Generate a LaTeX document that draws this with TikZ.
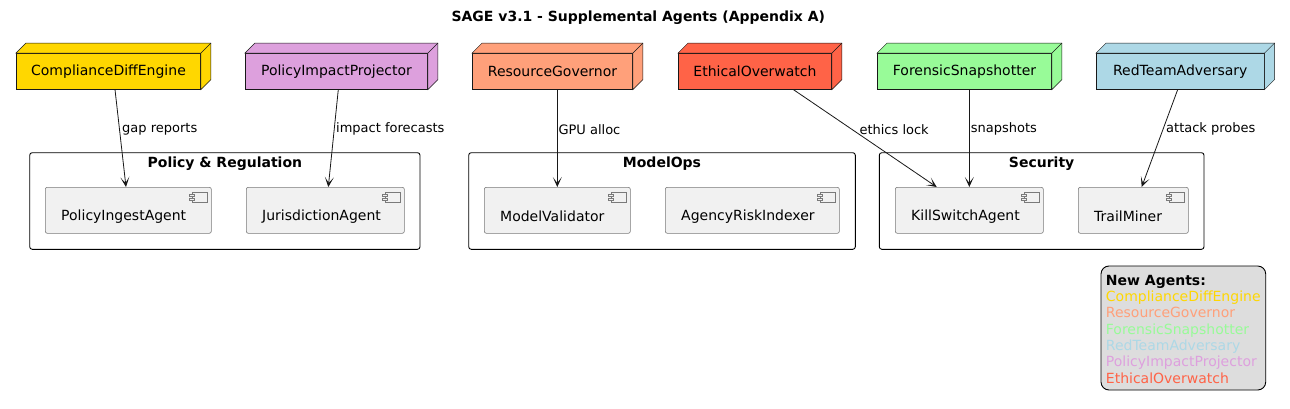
\documentclass[tikz,border=0pt]{standalone}
\usepackage{fontspec}
\setmainfont{DejaVu Sans}
\usetikzlibrary{calc,arrows.meta}
\definecolor{edgec}{HTML}{181818}
\definecolor{cgold}{HTML}{FFD700}
\definecolor{cplum}{HTML}{DDA0DD}
\definecolor{csalmon}{HTML}{FFA07A}
\definecolor{ctomato}{HTML}{FF6347}
\definecolor{cgreen}{HTML}{98FB98}
\definecolor{cblue}{HTML}{ADD8E6}
\definecolor{compfill}{HTML}{F1F1F1}
\definecolor{compline}{HTML}{7A7A7A}
\definecolor{legfill}{HTML}{DDDDDD}
\tikzset{
  agent/.style={draw=edgec, line width=0.5pt, fill=#1, minimum height=36pt, inner sep=0pt,
    font=\fontsize{14}{16}\selectfont},
  compbox/.style={draw=compline, line width=0.6pt, fill=compfill, rounded corners=2pt,
    minimum height=46pt, inner sep=0pt},
  comptext/.style={anchor=west, inner sep=0pt, font=\fontsize{14}{16}\selectfont},
  cluster/.style={draw=black, line width=0.9pt, rounded corners=2.5pt, minimum height=96.6pt, inner sep=0pt},
  clustertitle/.style={inner sep=0pt, font=\fontsize{14}{16}\selectfont\bfseries},
  elabel/.style={anchor=west, inner sep=0pt, font=\fontsize{13}{15}\selectfont},
  arr/.style={draw=edgec, line width=0.8pt, -{Stealth[length=10pt,width=9pt,inset=6pt]}},
  legtext/.style={anchor=base west, inner sep=0pt, font=\fontsize{14}{16}\selectfont},
}
\newcommand{\cubeside}[2]{%
  \filldraw[fill=#2, draw=edgec, line width=0.5pt] (#1.north west) -- ++(10,-10)
    -- ($(#1.north east)+(10,-10)$) -- ($(#1.south east)+(10,-10)$) -- (#1.south east)
    -- (#1.north east) -- cycle;
  \draw[edgec, line width=0.5pt] (#1.north east) -- ++(10,-10);}
\newcommand{\compicon}[1]{%
  \draw[compline, line width=0.6pt, fill=compfill] ($(#1.north east)+(-19.7,5)$) rectangle ($(#1.north east)+(-4.7,15)$);
  \draw[compline, line width=0.6pt, fill=compfill] ($(#1.north east)+(-22.2,6.8)$) rectangle ($(#1.north east)+(-17.2,9.2)$);
  \draw[compline, line width=0.6pt, fill=compfill] ($(#1.north east)+(-22.2,10.8)$) rectangle ($(#1.north east)+(-17.2,13.2)$);}
\begin{document}
\begin{tikzpicture}[x=1pt,y=-1pt]
\useasboundingbox[fill=white] (0,0) rectangle (1290,409);

\node[inner sep=0pt, font=\fontsize{14}{16}\selectfont\bfseries] (title) at (638.3,17.8) {SAGE v3.1 - Supplemental Agents (Appendix A)};

% clusters
\node[cluster, minimum width=390.3pt] (cpol) at (224.85,201) {};
\node[cluster, minimum width=386.6pt] (cmod) at (662,201) {};
\node[cluster, minimum width=324.7pt] (csec) at (1041.65,201) {};
\node[clustertitle] (tpol) at ($(cpol.north)+(0,11.8)$) {Policy \& Regulation};
\node[clustertitle] (tmod) at ($(cmod.north)+(0,11.8)$) {ModelOps};
\node[clustertitle] (tsec) at ($(csec.north)+(0,11.8)$) {Security};

% components
\node[compbox, minimum width=166pt] (pia) at (128.3,210.3) {};
\node[compbox, minimum width=158pt] (jur) at (325.3,210.3) {};
\node[compbox, minimum width=146pt] (mv) at (557.3,210.3) {};
\node[compbox, minimum width=174pt] (ari) at (752.3,210.3) {};
\node[compbox, minimum width=148pt] (ks) at (969.3,210.3) {};
\node[compbox, minimum width=110pt] (tm) at (1133.3,210.3) {};
\foreach \c in {pia,jur,mv,ari,ks,tm} {\compicon{\c}}
\node[comptext] (piat) at ($(pia.west)+(16,6)$) {PolicyIngestAgent};
\node[comptext] (jurt) at ($(jur.west)+(16,6)$) {JurisdictionAgent};
\node[comptext] (mvt) at ($(mv.west)+(16,6)$) {ModelValidator};
\node[comptext] (arit) at ($(ari.west)+(16,6)$) {AgencyRiskIndexer};
\node[comptext] (kst) at ($(ks.west)+(16,6)$) {KillSwitchAgent};
\node[comptext] (tmt) at ($(tm.west)+(16,6)$) {TrailMiner};

% agents (3D boxes)
\node[agent=cgold, minimum width=184.4pt] (cde) at (108.5,71.3) {ComplianceDiffEngine};
\node[agent=cplum, minimum width=182.4pt] (pip) at (336.5,71.3) {PolicyImpactProjector};
\node[agent=csalmon, minimum width=160.4pt] (rg) at (552.5,71.3) {ResourceGovernor};
\node[agent=ctomato, minimum width=153.4pt] (eo) at (755,71.3) {EthicalOverwatch};
\node[agent=cgreen, minimum width=174.4pt] (fs) at (964.5,71.3) {ForensicSnapshotter};
\node[agent=cblue, minimum width=168pt] (rt) at (1180.3,71.3) {RedTeamAdversary};
\cubeside{cde}{cgold}
\cubeside{pip}{cplum}
\cubeside{rg}{csalmon}
\cubeside{eo}{ctomato}
\cubeside{fs}{cgreen}
\cubeside{rt}{cblue}

% connectors
\draw[arr] ($(cde.south)+(6.5,0)$) -- ($(pia.north)+(-2.3,0)$);
\draw[arr] ($(pip.south)+(1.8,0)$) -- ($(jur.north)+(3,0)$);
\draw[arr] ($(rg.south)+(4.8,0)$) -- (mv.north);
\draw[arr] ($(eo.south)+(38.3,0)$) -- ($(ks.north)+(-32.6,0)$);
\draw[arr] ($(fs.south)+(4.8,0)$) -- (ks.north);
\draw[arr] ($(rt.south)+(-2.6,0)$) -- ($(tm.north)+(8.4,0)$);
\node[elabel] (l1) at (122,129.3) {gap reports};
\node[elabel] (l2) at (336,129.3) {impact forecasts};
\node[elabel] (l3) at (558.3,129.3) {GPU alloc};
\node[elabel] (l4) at (859.3,129.3) {ethics lock};
\node[elabel] (l5) at (970.7,129.3) {snapshots};
\node[elabel] (l6) at (1166,129.3) {attack probes};

% legend
\node[draw=black, line width=0.9pt, fill=legfill, rounded corners=8pt, minimum width=164.7pt, minimum height=124pt, inner sep=0pt] (leg) at (1183.35,328) {};
\node[legtext, font=\fontsize{14}{16}\selectfont\bfseries] (lg0) at (1105.7,285.7) {New Agents:};
\node[legtext, text=cgold] (lg1) at (1105.7,301.4) {ComplianceDiffEngine};
\node[legtext, text=csalmon] (lg2) at (1105.7,317.8) {ResourceGovernor};
\node[legtext, text=cgreen] (lg3) at (1105.7,334.2) {ForensicSnapshotter};
\node[legtext, text=cblue] (lg4) at (1105.7,350.5) {RedTeamAdversary};
\node[legtext, text=cplum] (lg5) at (1105.7,366.4) {PolicyImpactProjector};
\node[legtext, text=ctomato] (lg6) at (1105.7,383) {EthicalOverwatch};
\end{tikzpicture}
\end{document}
